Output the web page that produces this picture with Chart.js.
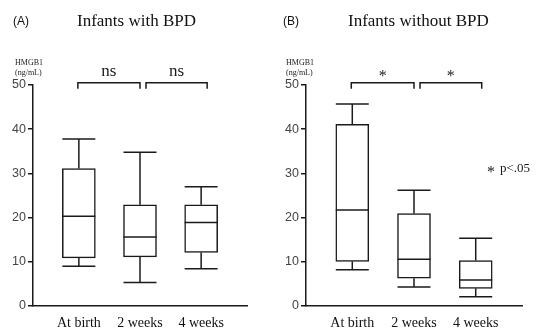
<!DOCTYPE html>
<html>
<head>
<meta charset="utf-8">
<script src="https://cdn.jsdelivr.net/npm/chart.js@4.4.1/dist/chart.umd.min.js"></script>
<style>
    body { margin: 0; background: #fff; }
    #wrap { position: relative; width: 537px; height: 329px; overflow: hidden; }
    .panel { position: absolute; top: 0; height: 329px; }
    .lbl { position: absolute; white-space: nowrap; color: #111; }
    .tag { font-family: "Liberation Sans", Arial, sans-serif; font-size: 12px; }
    .ttl { font-family: "Liberation Serif", "Times New Roman", serif; font-size: 17px; }
    .unit { font-family: "Liberation Serif", serif; font-size: 8px; line-height: 10px; color: #222; }
</style>
</head>
<body>
<div id="wrap">
    <div class="panel" style="left:0;width:268px"><canvas id="chartA"></canvas></div>
    <div class="panel" style="left:268px;width:269px"><canvas id="chartB"></canvas></div>
    <div class="lbl tag" style="left:13px;top:14px">(A)</div>
    <div class="lbl ttl" style="left:77px;top:11px">Infants with BPD</div>
    <div class="lbl unit" style="left:15px;top:58px">HMGB1<br>(ng/mL)</div>
    <div class="lbl tag" style="left:283px;top:14px">(B)</div>
    <div class="lbl ttl" style="left:348px;top:11px">Infants without BPD</div>
    <div class="lbl unit" style="left:286px;top:58px">HMGB1<br>(ng/mL)</div>
</div>
<script>
// Time points
const categories = ["At birth", "2 weeks", "4 weeks"];

// Infants with BPD (ng/mL)
const bpdMin = [9.0, 5.3, 8.4];
const bpdQ1 = [10.9, 11.1, 12.1];
const bpdMedian = [20.3, 15.6, 18.9];
const bpdQ3 = [31.1, 22.9, 22.9];
const bpdMax = [37.8, 34.8, 27.0];
const bpdSig = ["ns", "ns"];

// Infants without BPD (ng/mL)
const noBpdMin = [8.2, 4.3, 2.1];
const noBpdQ1 = [10.1, 6.3, 4.0];
const noBpdMedian = [21.7, 10.6, 5.9];
const noBpdQ3 = [41.1, 20.9, 10.3];
const noBpdMax = [45.7, 26.2, 15.3];
const noBpdSig = ["*", "*"];

const yTicks = [0, 10, 20, 30, 40, 50];

const INK = "#1a1a1a";

// whiskers, median lines and significance brackets
const boxExtras = {
    id: "boxExtras",
    afterDatasetsDraw(chart) {
        const c = chart.ctx;
        const xs = chart.scales.x;
        const ys = chart.scales.y;
        const meta = chart.getDatasetMeta(0);
        const st = chart.options.plugins.boxExtras;
        c.save();
        c.strokeStyle = INK;
        c.lineWidth = 1.5;
        const line = (x1, y1, x2, y2) => {
            c.beginPath();
            c.moveTo(x1, y1);
            c.lineTo(x2, y2);
            c.stroke();
        };
        meta.data.forEach((bar, i) => {
            const half = bar.width / 2;
            const x = xs.getPixelForValue(i);
            const yMin = ys.getPixelForValue(st.min[i]);
            const yMax = ys.getPixelForValue(st.max[i]);
            const yQ1 = ys.getPixelForValue(st.q1[i]);
            const yQ3 = ys.getPixelForValue(st.q3[i]);
            const yMed = ys.getPixelForValue(st.median[i]);
            line(x, yQ3, x, yMax);
            line(x - half, yMax, x + half, yMax);
            line(x, yQ1, x, yMin);
            line(x - half, yMin, x + half, yMin);
            line(x - half, yMed, x + half, yMed);
        });
        // brackets between neighbouring time points
        const yb = ys.getPixelForValue(50.5);
        st.sig.forEach((txt, i) => {
            const x1 = xs.getPixelForValue(i) + (i === 0 ? -1 : 6);
            const x2 = xs.getPixelForValue(i + 1) + (i === 0 ? 0 : 6);
            c.beginPath();
            c.moveTo(x1, yb + 6);
            c.lineTo(x1, yb);
            c.lineTo(x2, yb);
            c.lineTo(x2, yb + 6);
            c.stroke();
            c.fillStyle = INK;
            c.textAlign = "center";
            c.textBaseline = "alphabetic";
            if (txt === "ns") {
                c.font = "17px 'Liberation Serif', serif";
                c.fillText(txt, (x1 + x2) / 2, yb - 7);
            } else {
                c.font = "16px 'Liberation Serif', serif";
                c.fillText(txt, (x1 + x2) / 2, yb - 2);
            }
        });
        if (st.note) {
            c.textAlign = "left";
            c.font = "16px 'Liberation Serif', serif";
            c.fillText("*", 219, 177);
            c.font = "13px 'Liberation Serif', serif";
            c.fillText(st.note, 232, 172);
        }
        c.restore();
    }
};

function makeBoxChart(id, q1, q3, median, min, max, sig, pad, note) {
    const ctx = document.getElementById(id);
    return new Chart(ctx, {
        type: "bar",
        data: {
            datasets: [
                {
                    data: categories.map((_, i) => ({ x: i, y: [q1[i], q3[i]] })),
                    backgroundColor: "#ffffff",
                    borderColor: INK,
                    borderWidth: 1.5,
                    borderSkipped: false,
                    barThickness: 33,
                },
            ],
        },
        options: {
            responsive: true,
            maintainAspectRatio: false,
            animation: false,
            layout: { padding: pad },
            plugins: {
                legend: { display: false },
                tooltip: { enabled: false },
                boxExtras: { q1, q3, median, min, max, sig, note },
            },
            scales: {
                x: {
                    type: "linear",
                    offset: false,
                    min: -0.75,
                    max: 2.75,
                    afterBuildTicks: (s) => {
                        s.ticks = categories.map((_, i) => ({ value: i }));
                    },
                    afterFit: (s) => { s.height = 23; },
                    grid: { display: false, drawTicks: false },
                    border: { display: true, color: INK, width: 1.5 },
                    ticks: {
                        callback: (v) => categories[v],
                        color: "#111",
                        padding: 9,
                        maxRotation: 0,
                        autoSkip: false,
                        font: { family: "'Liberation Serif', serif", size: 14 },
                    },
                },
                y: {
                    min: 0,
                    max: 50,
                    afterBuildTicks: (s) => {
                        s.ticks = yTicks.map((v) => ({ value: v }));
                    },
                    afterFit: (s) => { s.width = pad.yw; },
                    grid: {
                        display: true,
                        drawOnChartArea: false,
                        drawTicks: true,
                        tickLength: 5,
                        color: INK,
                        lineWidth: 1.5,
                    },
                    border: { display: true, color: INK, width: 1.5 },
                    ticks: {
                        color: "#444",
                        padding: 2,
                        font: { family: "'Liberation Sans', Arial, sans-serif", size: 12.5 },
                    },
                },
            },
        },
        plugins: [boxExtras],
    });
}

makeBoxChart("chartA", bpdQ1, bpdQ3, bpdMedian, bpdMin, bpdMax, bpdSig,
    { left: 0, right: 21, top: 85, bottom: 0, yw: 33 }, null);
makeBoxChart("chartB", noBpdQ1, noBpdQ3, noBpdMedian, noBpdMin, noBpdMax, noBpdSig,
    { left: 0, right: 15, top: 85, bottom: 0, yw: 38 }, "p<.05");
</script>
</body>
</html>
